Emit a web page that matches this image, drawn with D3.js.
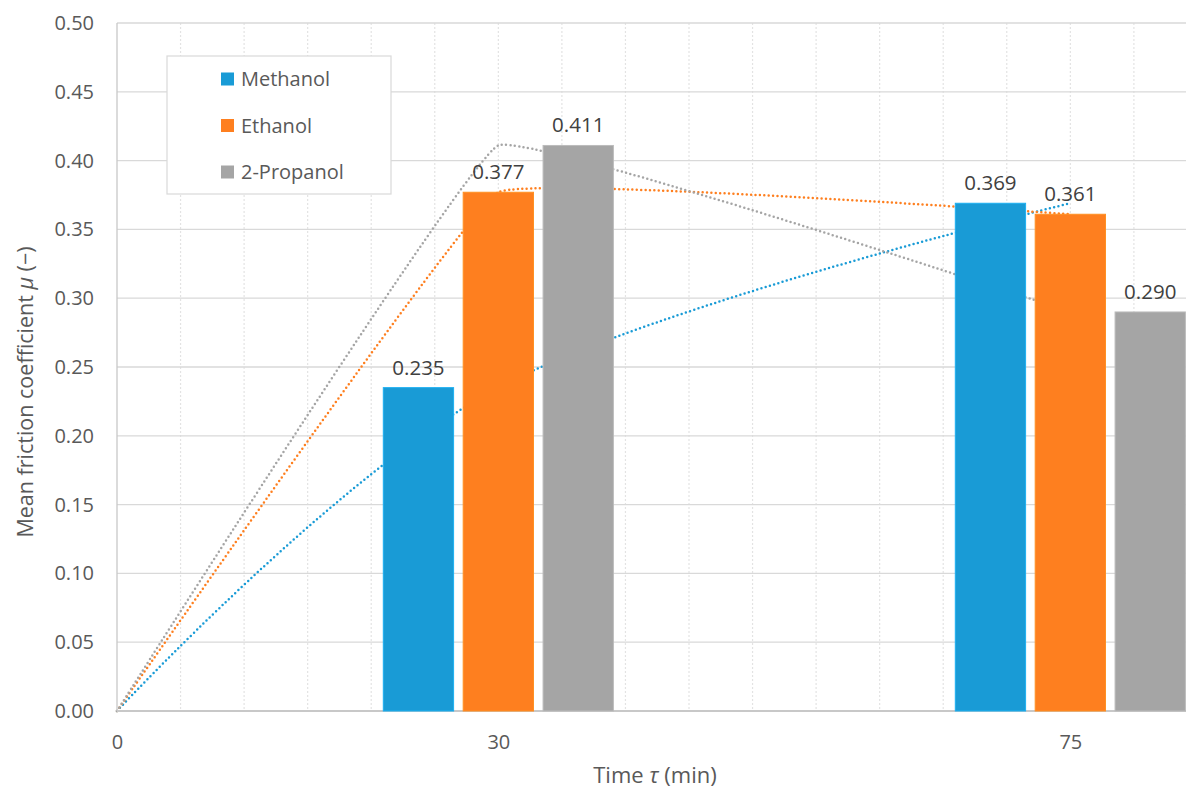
<!DOCTYPE html>
<html>
<head>
<meta charset="utf-8">
<script src="https://cdn.jsdelivr.net/npm/d3@7"></script>
<style>
  html, body { margin: 0; padding: 0; background: #ffffff; }
  svg { display: block; font-family: "Open Sans", "Noto Sans", sans-serif; }
</style>
</head>
<body>
<svg id="chart" width="1186" height="791"></svg>
<script>
// Sampling times (min) at which friction was measured
const times = [30, 75];
// Solvents
const seriesNames = ["Methanol", "Ethanol", "2-Propanol"];
// Mean friction coefficient per solvent at each time
const methanolValues = [0.235, 0.369];
const ethanolValues = [0.377, 0.361];
const propanolValues = [0.411, 0.290];
// Trend lines start from the origin
const trendStart = { t: 0, mu: 0 };
// Axis ticks
const xTickValues = [0, 30, 75];
const yTickValues = [0, 0.05, 0.10, 0.15, 0.20, 0.25, 0.30, 0.35, 0.40, 0.45, 0.50];
const gridMinutes = d3.range(0, 91, 5);

const seriesValues = [methanolValues, ethanolValues, propanolValues];

// ---- styles ----
const colors = { "Methanol": "#199bd6", "Ethanol": "#fe7f1f", "2-Propanol": "#a5a5a5" };
const trendTension = { "Methanol": 0, "Ethanol": 0.8, "2-Propanol": 0.8 };
const tickColor = "#595959";
const labelColor = "#404040";
const gridColor = "#d9d9d9";

const svg = d3.select("#chart");

const x = d3.scaleLinear().domain([0, 90]).range([117, 1261]);
const y = d3.scaleLinear().domain([0, 0.5]).range([711, 23]);

// bars of one time group share a band centred on the sampling time
const groupSpan = x(18.1) - x(0);
const band = d3.scaleBand()
  .domain(seriesNames)
  .range([-groupSpan / 2, groupSpan / 2])
  .paddingInner(0.12);

// ---- grid ----
const grid = svg.append("g");
grid.selectAll("line.v").data(gridMinutes.filter(d => d > 0)).join("line")
  .attr("x1", d => x(d)).attr("x2", d => x(d))
  .attr("y1", y(0.5)).attr("y2", y(0))
  .attr("stroke", "#e3e3e3").attr("stroke-width", 1.2)
  .attr("stroke-dasharray", "2,2");
grid.selectAll("line.h").data(yTickValues.filter(d => d > 0)).join("line")
  .attr("x1", x(0)).attr("x2", x(90))
  .attr("y1", d => y(d)).attr("y2", d => y(d))
  .attr("stroke", gridColor).attr("stroke-width", 1.3);

// ---- trend lines (drawn beneath the bars) ----
const trendData = seriesNames.map((name, i) => ({
  name,
  points: [trendStart].concat(times.map((t, j) => ({ t, mu: seriesValues[i][j] })))
}));
const trends = svg.append("g");
trendData.forEach(s => {
  const line = d3.line()
    .x(d => x(d.t)).y(d => y(d.mu))
    .curve(d3.curveCardinal.tension(trendTension[s.name]));
  trends.append("path")
    .attr("d", line(s.points))
    .attr("fill", "none")
    .attr("stroke", colors[s.name])
    .attr("stroke-width", 2.5)
    .attr("stroke-linecap", "round")
    .attr("stroke-dasharray", "0,4.4");
});

// ---- axis lines ----
svg.append("line")
  .attr("x1", x(0)).attr("x2", x(0)).attr("y1", y(0.5)).attr("y2", y(0))
  .attr("stroke", "#c8c8c8").attr("stroke-width", 1.3);
svg.append("line")
  .attr("x1", x(0)).attr("x2", x(90)).attr("y1", y(0)).attr("y2", y(0))
  .attr("stroke", "#c8c8c8").attr("stroke-width", 2);

// ---- bars ----
const barData = [];
times.forEach((t, j) => seriesNames.forEach((name, i) => {
  barData.push({ t, name, mu: seriesValues[i][j] });
}));
const bars = svg.append("g");
bars.selectAll("rect").data(barData).join("rect")
  .attr("x", d => x(d.t) + band(d.name))
  .attr("width", band.bandwidth())
  .attr("y", d => y(d.mu))
  .attr("height", d => y(0) - y(d.mu))
  .attr("fill", d => colors[d.name])
  .attr("stroke", d => d3.color(colors[d.name]).brighter(0.35))
  .attr("stroke-width", 1);

// value labels
bars.selectAll("text").data(barData).join("text")
  .attr("x", d => x(d.t) + band(d.name) + band.bandwidth() / 2)
  .attr("y", d => y(d.mu) - 13)
  .attr("text-anchor", "middle")
  .attr("fill", labelColor)
  .attr("font-size", 20.5)
  .text(d => d3.format(".3f")(d.mu));

// ---- axes ----
const yAxis = d3.axisLeft(y).tickValues(yTickValues).tickFormat(d3.format(".2f")).tickSize(0).tickPadding(23);
svg.append("g").attr("transform", `translate(${x(0)},0)`).call(yAxis)
  .call(g => g.select(".domain").remove())
  .selectAll("text").attr("font-size", 20).attr("fill", tickColor)
  .attr("font-family", "'Open Sans', sans-serif");

const xAxis = d3.axisBottom(x).tickValues(xTickValues).tickFormat(d3.format("d")).tickSize(0).tickPadding(24);
svg.append("g").attr("transform", `translate(0,${y(0)})`).call(xAxis)
  .call(g => g.select(".domain").remove())
  .selectAll("text").attr("font-size", 20).attr("fill", tickColor)
  .attr("font-family", "'Open Sans', sans-serif");

// axis titles
const xTitle = svg.append("text")
  .attr("x", 655).attr("y", 783)
  .attr("text-anchor", "middle").attr("font-size", 22).attr("fill", tickColor);
xTitle.append("tspan").text("Time ");
xTitle.append("tspan").attr("font-style", "italic").text("τ");
xTitle.append("tspan").text(" (min)");

const yTitle = svg.append("text")
  .attr("transform", "translate(33,392) rotate(-90)")
  .attr("text-anchor", "middle").attr("font-size", 21.5).attr("fill", tickColor);
yTitle.append("tspan").text("Mean friction coefficient ");
yTitle.append("tspan").attr("font-style", "italic").text("μ");
yTitle.append("tspan").text(" (−)");

// ---- legend ----
const legend = svg.append("g");
legend.append("rect")
  .attr("x", 167).attr("y", 56).attr("width", 224).attr("height", 138)
  .attr("fill", "#ffffff").attr("stroke", gridColor).attr("stroke-width", 1.2);
const legendRow = d3.scalePoint().domain(seriesNames).range([79, 172]);
const items = legend.selectAll("g.item").data(seriesNames).join("g")
  .attr("transform", d => `translate(221,${legendRow(d)})`);
items.append("rect")
  .attr("x", 0).attr("y", -6.5).attr("width", 13).attr("height", 13)
  .attr("fill", d => colors[d]);
items.append("text")
  .attr("x", 20).attr("y", 0).attr("dy", "0.35em")
  .attr("font-size", 20).attr("fill", tickColor)
  .text(d => d);
</script>
</body>
</html>
